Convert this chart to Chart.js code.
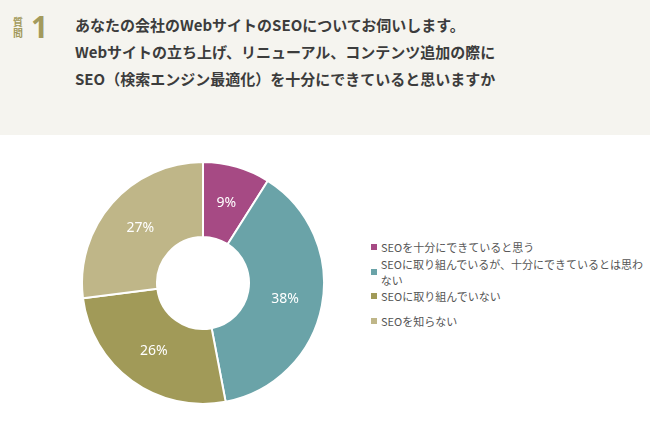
<!DOCTYPE html>
<html><head><meta charset="utf-8">
<script src="https://cdn.jsdelivr.net/npm/chart.js@4"></script>
<style>
body{margin:0;width:650px;height:432px;background:#fff;font-family:"Noto Sans CJK JP","Noto Sans",sans-serif;position:relative;overflow:hidden}
#hd{position:absolute;left:0;top:0;width:650px;height:135px;background:#f5f4ef}
#q{position:absolute;left:13px;top:16px;font-size:10px;line-height:11px;color:#a39a5c;width:11px;font-weight:bold}
#n{position:absolute;left:31px;top:6px;font-size:30px;font-weight:bold;color:#a39a5c;font-family:"Open Sans",sans-serif}
#t{position:absolute;left:75px;top:11px;font-size:15px;line-height:27px;font-weight:bold;color:#3c3c3c}
#cw{position:absolute;left:81px;top:161px;width:244px;height:244px}
#lg{position:absolute;left:371px;top:235px;font-size:11px;color:#555}
#lg div{height:24.5px;display:flex;align-items:center}
#lg span{display:inline-block;width:6px;height:6px;margin-right:4px}
</style></head><body>
<div id="hd"><div id="q">質<br>問</div><div id="n">1</div>
<div id="t">あなたの会社のWebサイトのSEOについてお伺いします。<br>Webサイトの立ち上げ、リニューアル、コンテンツ追加の際に<br>SEO（検索エンジン最適化）を十分にできていると思いますか</div></div>
<div id="cw"><canvas id="c"></canvas></div>
<div id="lg"></div>
<script>
const labels=["SEOを十分にできていると思う","SEOに取り組んでいるが、十分にできているとは思わない","SEOに取り組んでいない","SEOを知らない"];
const values=[9,38,26,27];
const colors=["#a64a84","#6aa3a8","#a19a58","#bfb688"];
const lg=document.getElementById('lg');
labels.forEach((l,i)=>{const d=document.createElement('div');d.innerHTML='<span style="background:'+colors[i]+'"></span>'+l;lg.appendChild(d);});
const lbl={id:'lbl',afterDatasetsDraw(ch){const ctx=ch.ctx;ch.getDatasetMeta(0).data.forEach((a,i)=>{const p=a.tooltipPosition();ctx.save();ctx.fillStyle='#fff';ctx.font='14px "Noto Sans","Noto Sans CJK JP",sans-serif';ctx.textAlign='center';ctx.textBaseline='middle';ctx.fillText(values[i]+'%',p.x,p.y);ctx.restore();});}};
new Chart(document.getElementById('c'),{type:'doughnut',data:{labels:labels,datasets:[{data:values,backgroundColor:colors,borderColor:'#fff',borderWidth:2}]},
options:{responsive:true,maintainAspectRatio:false,animation:false,cutout:'38%',layout:{padding:0},plugins:{legend:{display:false},tooltip:{enabled:false}}},plugins:[lbl]});
</script></body></html>
